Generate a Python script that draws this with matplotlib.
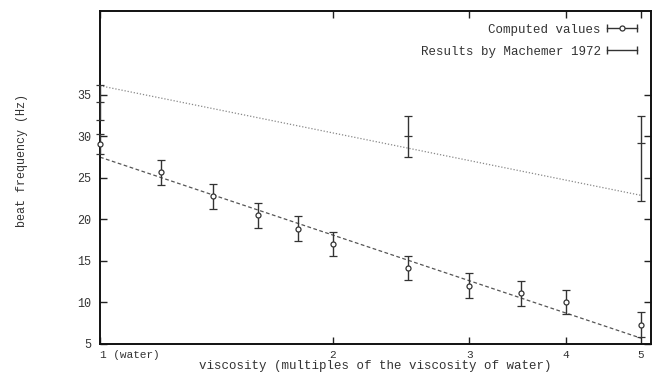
import matplotlib
matplotlib.use("Agg")
import matplotlib.pyplot as plt
from matplotlib.lines import Line2D
from matplotlib.legend_handler import HandlerLine2D, HandlerTuple
import numpy as np

# ---- data ----
visc = [1, 1.2, 1.4, 1.6, 1.8, 2, 2.5, 3, 3.5, 4, 5]
freq_computed = [29.1, 25.7, 22.8, 20.5, 18.9, 17.0, 14.1, 12.0, 11.1, 10.1, 7.3]
err_computed = [1.2, 1.5, 1.5, 1.5, 1.5, 1.45, 1.45, 1.5, 1.5, 1.45, 1.5]

visc_machemer = [1, 2.5, 5]
freq_machemer = [34.1, 30.0, 29.2]
err_low_machemer = [2.1, 2.5, 7.0]
err_high_machemer = [2.1, 2.5, 3.3]

fit_visc = [1, 5]
fit_computed = [27.5, 5.7]
fit_machemer = [36.1, 22.9]

xtick_vals = [1, 2, 3, 4, 5]
xtick_labels = ["1 (water)", "2", "3", "4", "5"]
ytick_vals = [5, 10, 15, 20, 25, 30, 35]

mono = ["Liberation Mono", "DejaVu Sans Mono"]
txt_color = "#333333"

fig = plt.figure(figsize=(6.52, 3.73), dpi=100)
ax = fig.add_axes([100/652, 29/373, 551/652, 333/373])
ax.set_xscale("log")
ax.set_xlim(1, 5.15)
ax.set_ylim(5, 45.1)

# fit lines
ax.plot(fit_visc, fit_machemer, linestyle=(0, (1, 1.5)), color="#888888", lw=0.9)
ax.plot(fit_visc, fit_computed, linestyle=(0, (3, 2)), color="#555555", lw=0.9)

# computed values
eb1 = ax.errorbar(visc, freq_computed, yerr=err_computed, fmt="o", ms=3.6,
                  mfc="white", mec="#333333", mew=0.9, ecolor="#333333",
                  elinewidth=1.0, capsize=2.8, capthick=1.0, clip_on=False, zorder=3)
# Machemer results
eb2 = ax.errorbar(visc_machemer, freq_machemer,
                  yerr=[err_low_machemer, err_high_machemer], fmt="_", ms=6,
                  mec="#333333", color="#333333", mew=0.9, ecolor="#333333",
                  elinewidth=1.0, capsize=2.8, capthick=1.0, clip_on=False, zorder=3)

ax.set_xticks(xtick_vals)
ax.set_xticklabels(xtick_labels)
ax.xaxis.set_minor_locator(matplotlib.ticker.NullLocator())
ax.set_yticks(ytick_vals)
for lab in ax.get_xticklabels():
    lab.set_fontfamily(mono)
    lab.set_fontsize(8)
    lab.set_color(txt_color)
ax.get_xticklabels()[0].set_horizontalalignment("left")
for lab in ax.get_yticklabels():
    lab.set_fontfamily(mono)
    lab.set_fontsize(8.5)
    lab.set_color(txt_color)

ax.tick_params(direction="in", length=5, width=1.0, top=True, right=True,
               pad=6, colors="#222222", labelcolor=txt_color)
ax.tick_params(axis="x", pad=4)
for s in ax.spines.values():
    s.set_linewidth(1.4)
    s.set_color("#111111")

ax.set_xlabel("viscosity (multiples of the viscosity of water)",
              fontfamily=mono, fontsize=9, color=txt_color)
ax.set_ylabel("beat frequency (Hz)", fontfamily=mono, fontsize=8.5, color=txt_color)
ax.xaxis.set_label_coords(0.5, -0.047)
ax.yaxis.set_label_coords(-0.13, 0.55)

# legend handles styled like gnuplot samples
h1_line = Line2D([], [], color="#333333", lw=1.0, marker="|", ms=6, mew=1.0)
h1_pt = Line2D([], [], linestyle="none", marker="o", ms=3.6, mfc="white",
               mec="#333333", mew=0.9)
h2_line = Line2D([], [], color="#333333", lw=1.0, marker="|", ms=6, mew=1.0)
leg = ax.legend([(h1_line, h1_pt), h2_line],
                ["Computed values", "Results by Machemer 1972"],
                handler_map={h1_line: HandlerLine2D(numpoints=2),
                             h2_line: HandlerLine2D(numpoints=2),
                             h1_pt: HandlerLine2D(numpoints=1),
                             tuple: HandlerTuple(ndivide=1)},
                loc="upper right", bbox_to_anchor=(1.0, 0.992), frameon=False,
                markerfirst=False, handlelength=3.0, handletextpad=0.2,
                labelspacing=0.8, borderpad=0.3,
                prop={"family": mono, "size": 9})
for t in leg.get_texts():
    t.set_color(txt_color)

fig.savefig("out.png", dpi=100)
